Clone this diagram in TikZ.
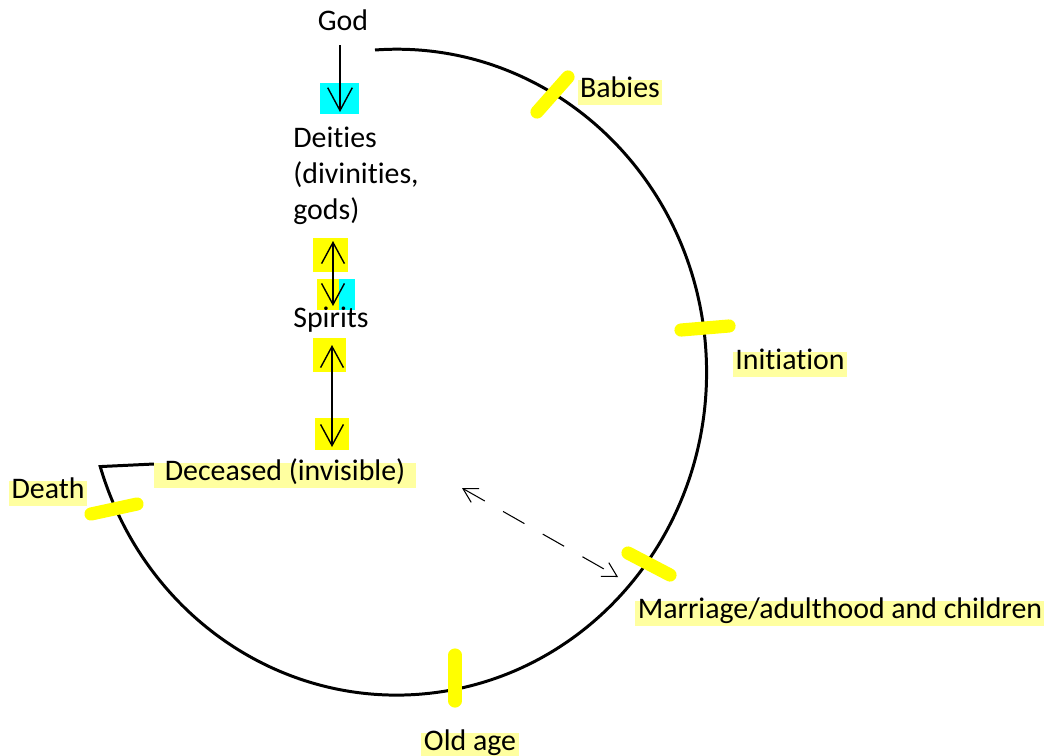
\documentclass[tikz,border=0pt]{standalone}
\usepackage{fontspec}
\setmainfont{Carlito}[Ligatures=NoCommon]
\usepackage{tikz}
\usetikzlibrary{arrows.meta}
\definecolor{hilite}{RGB}{255,255,160}
\definecolor{marker}{RGB}{255,255,0}
\definecolor{cyanbox}{RGB}{0,255,255}
\def\bigfont{\fontsize{17}{20.4}\selectfont}
\tikzset{
    lbl/.style={font=\bigfont, inner sep=0pt, anchor=base, text height=0.72em, text depth=0.2em},
    hl/.style={lbl, fill=hilite, inner xsep=1.5pt, inner ysep=2.5pt},
    lifeline/.style={line width=1.7pt},
    tickmark/.style={draw=marker, line width=7.5pt, line cap=round},
    arr/.style={line width=0.8pt, -{Straight Barb[length=13pt,width=14pt]}},
    arrtwo/.style={line width=0.8pt, {Straight Barb[length=12pt,width=13pt]}-{Straight Barb[length=12pt,width=13pt]}},
    dasharr/.style={line width=0.6pt, dash pattern=on 14pt off 12pt,
        {Straight Barb[length=8pt,width=9pt]}-{Straight Barb[length=8pt,width=9pt]}}
}

\begin{document}
\begin{tikzpicture}[x=0.02cm,y=-0.02cm]
    \useasboundingbox (0,0) rectangle (1044,755);
    % boxes behind the arrow heads
    \fill[cyanbox] (320,83) rectangle (359,114);
    \fill[marker] (313,238) rectangle (348,272);
    \fill[marker] (317,279) rectangle (339,310);
    \fill[cyanbox] (339,279) rectangle (355,310);
    \fill[marker] (313,338) rectangle (346,372);
    \fill[marker] (315,418) rectangle (349,450);
    % the life cycle
    \node[hl, inner xsep=6pt] (deceased) at (285,480) {Deceased (invisible)};
    \draw[lifeline] (375,50) arc[start angle=94, end angle=-163, x radius=6.2cm, y radius=6.46cm] -- (deceased.west |- 0,464);
    \draw[tickmark] (537,112) -- (568,77);
    \draw[tickmark] (681,330) -- (729,326);
    \draw[tickmark] (628,553) -- (670,575);
    \draw[tickmark] (455,655) -- (455,701);
    \draw[tickmark] (91,514) -- (137,504);
    \node[hl] (death) at (48,498) {Death};
    \node[hl] (babies) at (620,97) {Babies};
    \node[hl] (initiation) at (790,369) {Initiation};
    \node[hl] (marriage) at (840,618) {Marriage/adulthood and children};
    \node[hl] (oldage) at (470,750) {Old age};
    % the unseen world
    \node[lbl] (god) at (343,30) {God};
    \node[font=\bigfont, inner sep=0pt, anchor=base west, align=left] (deities) at (293,219) {Deities\\(divinities,\\gods)};
    \node[lbl, anchor=base west] (spirits) at (293,327) {Spirits};
    \coordinate (godfoot) at (340,45);
    \coordinate (deitiestop) at (340,112);
    \coordinate (deitiesfoot) at (333,241);
    \coordinate (spiritstop) at (333,306);
    \coordinate (spiritsfoot) at (332,345);
    \coordinate (deceasedtop) at (332,447);
    \coordinate (deceasedside) at (462,488);
    \coordinate (marriageside) at (618,577);
    \draw[arr] (godfoot) -- (deitiestop);
    \draw[arrtwo] (deitiesfoot) -- (spiritstop);
    \draw[arrtwo] (spiritsfoot) -- (deceasedtop);
    \draw[dasharr] (deceasedside) -- (marriageside);
\end{tikzpicture}
\end{document}
